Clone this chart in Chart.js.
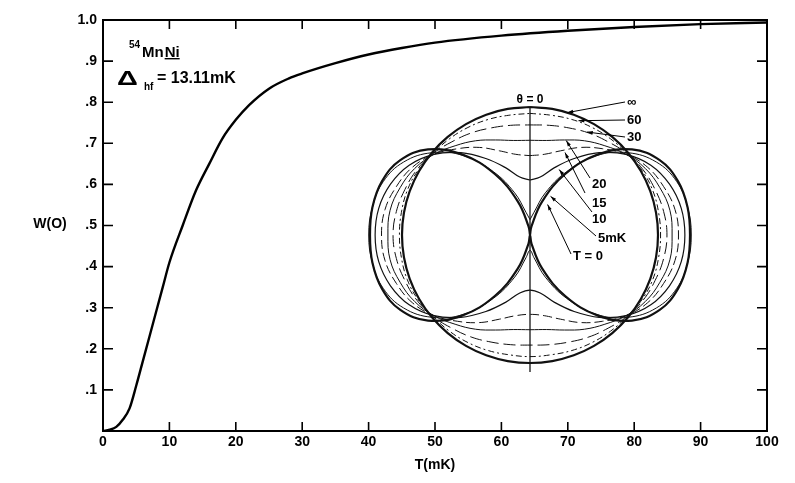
<!DOCTYPE html>
<html lang="en">
<head>
    <meta charset="UTF-8">
    <title>W(0) vs T for 54MnNi</title>
    <script src="https://cdn.jsdelivr.net/npm/chart.js"></script>
    <style>
        html, body { margin: 0; padding: 0; background: #fff; }
        #wrap { width: 795px; height: 483px; }
    </style>
</head>
<body>
<div id="wrap"><canvas id="wChart" width="795" height="483"></canvas></div>
<script>
    // main curve W(0) against temperature
    const tempMK = [0, 1, 2, 3, 4, 5, 6, 7, 8, 9, 10, 12, 14, 16, 18, 20, 22, 25, 28, 30, 35, 40, 45, 50, 60, 70, 80, 90, 100];
    const w0 = [0, 0.003, 0.01, 0.028, 0.055, 0.11, 0.17, 0.23, 0.29, 0.35, 0.41, 0.50, 0.585, 0.65, 0.712, 0.757, 0.793, 0.833, 0.858, 0.870, 0.895, 0.916, 0.932, 0.945, 0.962, 0.974, 0.983, 0.99, 0.994];

    const xTicks = [0, 10, 20, 30, 40, 50, 60, 70, 80, 90, 100];
    const yTicks = [0, 0.1, 0.2, 0.3, 0.4, 0.5, 0.6, 0.7, 0.8, 0.9, 1.0];

    // inset: W(theta) read at theta = 0..90 deg (symmetric in the other quadrants)
    const insetAngles = [0, 10, 20, 30, 40, 50, 60, 70, 80, 90];
    const insetLabels = ['T = 0', '5mK', '10', '15', '20', '30', '60', '\u221e'];
    const wT0   = [0, 0.07, 0.28, 0.55, 0.82, 1.04, 1.17, 1.23, 1.25, 1.25];
    const wT5   = [0.12, 0.18, 0.35, 0.57, 0.81, 1.0, 1.14, 1.22, 1.25, 1.26];
    const wT10  = [0.43, 0.46, 0.56, 0.69, 0.84, 0.98, 1.09, 1.16, 1.2, 1.21];
    const wT15  = [0.62, 0.64, 0.70, 0.79, 0.88, 0.98, 1.06, 1.11, 1.15, 1.16];
    const wT20  = [0.74, 0.75, 0.79, 0.85, 0.91, 0.98, 1.04, 1.08, 1.11, 1.11];
    const wT30  = [0.86, 0.87, 0.89, 0.92, 0.95, 0.99, 1.02, 1.04, 1.06, 1.07];
    const wT60  = [0.95, 0.95, 0.96, 0.97, 0.98, 0.99, 1.01, 1.02, 1.02, 1.02];
    const wTinf = [1, 1, 1, 1, 1, 1, 1, 1, 1, 1];
    const insetSeries = [wT0, wT5, wT10, wT15, wT20, wT30, wT60, wTinf];
    const thetaAxis = [-1.07, 1.0];   // extent of the theta = 0 axis line, in units of W

    const insetStyle = [
        { w: 2.2, dash: [] },
        { w: 1, dash: [] },
        { w: 1.2, dash: [] },
        { w: 1, dash: [9, 4] },
        { w: 1, dash: [] },
        { w: 1, dash: [12, 5] },
        { w: 1, dash: [6, 3, 2, 3] },
        { w: 2.2, dash: [] }
    ];

    // polar -> cartesian, closing the loop over all four quadrants
    function polarLoop(r) {
        const pts = [];
        const add = (deg, v) => {
            const a = deg * Math.PI / 180;
            pts.push({ x: v * Math.sin(a), y: v * Math.cos(a) });
        };
        insetAngles.forEach((t, i) => add(t, r[i]));
        for (let i = insetAngles.length - 2; i >= 0; i--) add(180 - insetAngles[i], r[i]);
        for (let i = 1; i < insetAngles.length; i++) add(180 + insetAngles[i], r[i]);
        for (let i = insetAngles.length - 2; i >= 0; i--) add(360 - insetAngles[i], r[i]);
        return pts;
    }

    const datasets = [{
        data: tempMK.map((t, i) => ({ x: t, y: w0[i] })),
        xAxisID: 'x', yAxisID: 'y',
        showLine: true, borderColor: '#000', borderWidth: 2.4,
        pointRadius: 0, cubicInterpolationMode: 'monotone'
    }];
    insetSeries.forEach((r, k) => {
        datasets.push({
            data: polarLoop(r),
            xAxisID: 'x2', yAxisID: 'y2',
            showLine: true, borderColor: '#111', borderWidth: insetStyle[k].w,
            borderDash: insetStyle[k].dash, pointRadius: 0, tension: 0.4
        });
    });
    datasets.push({
        data: thetaAxis.map(v => ({ x: 0, y: v })),
        xAxisID: 'x2', yAxisID: 'y2',
        showLine: true, borderColor: '#000', borderWidth: 1.2, pointRadius: 0
    });

    // inset geometry: centre (530,235) px, W = 1 -> 128 px
    const cx = 530, cy = 235, unit = 128;
    const area = { left: 103, right: 767, top: 20, bottom: 431 };

    const bold = s => 'bold ' + s + 'px "Liberation Sans", Arial, sans-serif';
    const tickFont = { family: '"Liberation Sans", Arial', size: 14, weight: 'bold' };

    const framePlugin = {
        id: 'frame',
        afterDraw(chart) {
            const ctx = chart.ctx;
            const a = chart.chartArea;
            const xs = chart.scales.x, ys = chart.scales.y;
            const sx = chart.scales.x2, sy = chart.scales.y2;
            ctx.save();
            ctx.strokeStyle = '#000';
            ctx.fillStyle = '#000';
            ctx.lineWidth = 2;
            ctx.strokeRect(a.left, a.top, a.right - a.left, a.bottom - a.top);
            ctx.lineWidth = 1.6;
            ctx.beginPath();
            xTicks.forEach(v => {
                const px = xs.getPixelForValue(v);
                ctx.moveTo(px, a.bottom); ctx.lineTo(px, a.bottom - 9);
                ctx.moveTo(px, a.top); ctx.lineTo(px, a.top + 9);
            });
            yTicks.forEach(v => {
                const py = ys.getPixelForValue(v);
                ctx.moveTo(a.left, py); ctx.lineTo(a.left + 10, py);
                ctx.moveTo(a.right, py); ctx.lineTo(a.right - 10, py);
            });
            ctx.stroke();

            // y title
            ctx.font = bold(14);
            ctx.textAlign = 'center';
            ctx.textBaseline = 'middle';
            ctx.fillText('W(O)', 50, ys.getPixelForValue(0.5) - 1);

            // nucleus / hyperfine splitting note
            ctx.textAlign = 'left';
            ctx.textBaseline = 'alphabetic';
            ctx.font = bold(10);
            ctx.fillText('54', 129, 48);
            ctx.font = bold(15);
            ctx.fillText('Mn', 142, 57);
            const mnW = ctx.measureText('Mn').width;
            ctx.fillText('Ni', 142 + mnW + 1, 57);
            const niW = ctx.measureText('Ni').width;
            ctx.fillRect(142 + mnW + 1, 58, niW, 1.4);
            ctx.save();
            ctx.translate(117, 85);
            ctx.scale(1.45, 1.05);
            ctx.font = bold(20);
            ctx.fillText('\u0394', 0, 0);
            ctx.restore();
            ctx.font = bold(10);
            ctx.fillText('hf', 144, 90);
            ctx.font = bold(16);
            ctx.fillText('= 13.11mK', 157, 83);

            // inset labels
            ctx.font = bold(12);
            ctx.textAlign = 'center';
            ctx.fillText('\u03b8 = 0', sx.getPixelForValue(0), sy.getPixelForValue(1.0) - 4);
            ctx.textAlign = 'left';
            ctx.font = bold(13);
            const lab = [
                ['\u221e', 627, 106], ['60', 627, 124], ['30', 627, 141],
                ['20', 592, 188], ['15', 592, 207], ['10', 592, 223],
                ['5mK', 598, 242], ['T = 0', 573, 260]
            ];
            lab.forEach(l => ctx.fillText(l[0], l[1], l[2]));

            // leaders from labels to curves (angle in deg, W value of the target curve)
            const leaders = [
                [625, 102, 17, wTinf[2]], [625, 120, 23, wT60[3]], [625, 137, 29, wT30[3]],
                [590, 178, 21, wT20[2]], [585, 193, 23, wT15[2]], [592, 212, 24, wT10[2]],
                [596, 236, 28, wT5[3] * 0.6], [571, 254, 30, wT0[3] * 0.5]
            ];
            ctx.lineWidth = 1;
            leaders.forEach(l => {
                const ang = l[2] * Math.PI / 180;
                const tx = sx.getPixelForValue(l[3] * Math.sin(ang));
                const ty = sy.getPixelForValue(l[3] * Math.cos(ang));
                ctx.beginPath();
                ctx.moveTo(l[0], l[1]);
                ctx.lineTo(tx, ty);
                ctx.stroke();
                const d = Math.atan2(ty - l[1], tx - l[0]);
                ctx.beginPath();
                ctx.moveTo(tx, ty);
                ctx.lineTo(tx - 6 * Math.cos(d - 0.3), ty - 6 * Math.sin(d - 0.3));
                ctx.lineTo(tx - 6 * Math.cos(d + 0.3), ty - 6 * Math.sin(d + 0.3));
                ctx.closePath();
                ctx.fill();
            });
            ctx.restore();
        }
    };

    new Chart(document.getElementById('wChart'), {
        type: 'scatter',
        data: { datasets: datasets },
        options: {
            responsive: false,
            animation: false,
            layout: { autoPadding: false, padding: { top: 20, right: 28, left: 0, bottom: 0 } },
            plugins: { legend: { display: false }, tooltip: { enabled: false } },
            scales: {
                x: {
                    type: 'linear', min: 0, max: 100,
                    afterFit: s => { s.height = 52; },
                    afterBuildTicks: s => { s.ticks = xTicks.map(v => ({ value: v })); },
                    grid: { display: false, drawTicks: false },
                    border: { display: false },
                    ticks: { color: '#000', font: tickFont, padding: 3, maxRotation: 0 },
                    title: { display: true, text: 'T(mK)', color: '#000', font: tickFont, padding: { top: 0, bottom: 9 } }
                },
                y: {
                    type: 'linear', min: 0, max: 1,
                    afterFit: s => { s.width = 103; },
                    afterBuildTicks: s => { s.ticks = yTicks.map(v => ({ value: v })); },
                    grid: { display: false, drawTicks: false },
                    border: { display: false },
                    ticks: {
                        color: '#000', padding: 6, font: tickFont,
                        callback: v => v === 0 ? '' : (v >= 0.999 ? '1.0' : '.' + Math.round(v * 10))
                    }
                },
                x2: {
                    type: 'linear', display: false,
                    min: (area.left - cx) / unit, max: (area.right - cx) / unit
                },
                y2: {
                    type: 'linear', display: false,
                    min: -(area.bottom - cy) / unit, max: (cy - area.top) / unit
                }
            }
        },
        plugins: [framePlugin]
    });
</script>
</body>
</html>
